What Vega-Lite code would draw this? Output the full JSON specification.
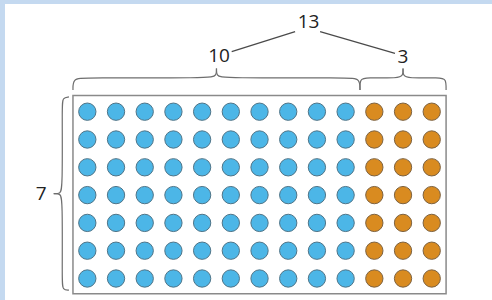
{
  "$schema": "https://vega.github.io/schema/vega-lite/v6.json",
  "width": 492,
  "height": 300,
  "autosize": {"type": "fit", "contains": "padding"},
  "padding": {"left": 5, "top": 4, "right": 0, "bottom": 0},
  "background": "#c4d9f0",
  "config": {"view": {"fill": "white", "stroke": null}},
  "datasets": {
    "grid": [
      {"col":0,"row":0,"group":"ten"},{"col":1,"row":0,"group":"ten"},{"col":2,"row":0,"group":"ten"},{"col":3,"row":0,"group":"ten"},{"col":4,"row":0,"group":"ten"},{"col":5,"row":0,"group":"ten"},{"col":6,"row":0,"group":"ten"},{"col":7,"row":0,"group":"ten"},{"col":8,"row":0,"group":"ten"},{"col":9,"row":0,"group":"ten"},{"col":10,"row":0,"group":"three"},{"col":11,"row":0,"group":"three"},{"col":12,"row":0,"group":"three"},
      {"col":0,"row":1,"group":"ten"},{"col":1,"row":1,"group":"ten"},{"col":2,"row":1,"group":"ten"},{"col":3,"row":1,"group":"ten"},{"col":4,"row":1,"group":"ten"},{"col":5,"row":1,"group":"ten"},{"col":6,"row":1,"group":"ten"},{"col":7,"row":1,"group":"ten"},{"col":8,"row":1,"group":"ten"},{"col":9,"row":1,"group":"ten"},{"col":10,"row":1,"group":"three"},{"col":11,"row":1,"group":"three"},{"col":12,"row":1,"group":"three"},
      {"col":0,"row":2,"group":"ten"},{"col":1,"row":2,"group":"ten"},{"col":2,"row":2,"group":"ten"},{"col":3,"row":2,"group":"ten"},{"col":4,"row":2,"group":"ten"},{"col":5,"row":2,"group":"ten"},{"col":6,"row":2,"group":"ten"},{"col":7,"row":2,"group":"ten"},{"col":8,"row":2,"group":"ten"},{"col":9,"row":2,"group":"ten"},{"col":10,"row":2,"group":"three"},{"col":11,"row":2,"group":"three"},{"col":12,"row":2,"group":"three"},
      {"col":0,"row":3,"group":"ten"},{"col":1,"row":3,"group":"ten"},{"col":2,"row":3,"group":"ten"},{"col":3,"row":3,"group":"ten"},{"col":4,"row":3,"group":"ten"},{"col":5,"row":3,"group":"ten"},{"col":6,"row":3,"group":"ten"},{"col":7,"row":3,"group":"ten"},{"col":8,"row":3,"group":"ten"},{"col":9,"row":3,"group":"ten"},{"col":10,"row":3,"group":"three"},{"col":11,"row":3,"group":"three"},{"col":12,"row":3,"group":"three"},
      {"col":0,"row":4,"group":"ten"},{"col":1,"row":4,"group":"ten"},{"col":2,"row":4,"group":"ten"},{"col":3,"row":4,"group":"ten"},{"col":4,"row":4,"group":"ten"},{"col":5,"row":4,"group":"ten"},{"col":6,"row":4,"group":"ten"},{"col":7,"row":4,"group":"ten"},{"col":8,"row":4,"group":"ten"},{"col":9,"row":4,"group":"ten"},{"col":10,"row":4,"group":"three"},{"col":11,"row":4,"group":"three"},{"col":12,"row":4,"group":"three"},
      {"col":0,"row":5,"group":"ten"},{"col":1,"row":5,"group":"ten"},{"col":2,"row":5,"group":"ten"},{"col":3,"row":5,"group":"ten"},{"col":4,"row":5,"group":"ten"},{"col":5,"row":5,"group":"ten"},{"col":6,"row":5,"group":"ten"},{"col":7,"row":5,"group":"ten"},{"col":8,"row":5,"group":"ten"},{"col":9,"row":5,"group":"ten"},{"col":10,"row":5,"group":"three"},{"col":11,"row":5,"group":"three"},{"col":12,"row":5,"group":"three"},
      {"col":0,"row":6,"group":"ten"},{"col":1,"row":6,"group":"ten"},{"col":2,"row":6,"group":"ten"},{"col":3,"row":6,"group":"ten"},{"col":4,"row":6,"group":"ten"},{"col":5,"row":6,"group":"ten"},{"col":6,"row":6,"group":"ten"},{"col":7,"row":6,"group":"ten"},{"col":8,"row":6,"group":"ten"},{"col":9,"row":6,"group":"ten"},{"col":10,"row":6,"group":"three"},{"col":11,"row":6,"group":"three"},{"col":12,"row":6,"group":"three"}
    ],
    "braces": [
      {"id":"a1","k":0,"x":-0.5,"y":-0.78},{"id":"a1","k":1,"x":-0.5,"y":-1.18},{"id":"a1","k":2,"x":-0.15,"y":-1.23},{"id":"a1","k":3,"x":4.3,"y":-1.2},{"id":"a1","k":4,"x":4.5,"y":-1.3},{"id":"a1","k":5,"x":4.5,"y":-1.55},
      {"id":"a2","k":0,"x":4.5,"y":-1.55},{"id":"a2","k":1,"x":4.5,"y":-1.3},{"id":"a2","k":2,"x":4.7,"y":-1.2},{"id":"a2","k":3,"x":9.15,"y":-1.23},{"id":"a2","k":4,"x":9.5,"y":-1.18},{"id":"a2","k":5,"x":9.5,"y":-0.78},
      {"id":"b1","k":0,"x":9.5,"y":-0.78},{"id":"b1","k":1,"x":9.5,"y":-1.18},{"id":"b1","k":2,"x":9.7,"y":-1.23},{"id":"b1","k":3,"x":10.85,"y":-1.2},{"id":"b1","k":4,"x":11.0,"y":-1.3},{"id":"b1","k":5,"x":11.0,"y":-1.55},
      {"id":"b2","k":0,"x":11.0,"y":-1.55},{"id":"b2","k":1,"x":11.0,"y":-1.3},{"id":"b2","k":2,"x":11.15,"y":-1.2},{"id":"b2","k":3,"x":12.3,"y":-1.23},{"id":"b2","k":4,"x":12.5,"y":-1.18},{"id":"b2","k":5,"x":12.5,"y":-0.78},
      {"id":"c1","k":0,"x":-0.64,"y":-0.53},{"id":"c1","k":1,"x":-0.86,"y":-0.5},{"id":"c1","k":2,"x":-0.88,"y":-0.25},{"id":"c1","k":3,"x":-0.86,"y":2.8},{"id":"c1","k":4,"x":-0.95,"y":2.95},{"id":"c1","k":5,"x":-1.17,"y":2.95},
      {"id":"c2","k":0,"x":-1.17,"y":2.95},{"id":"c2","k":1,"x":-0.95,"y":2.95},{"id":"c2","k":2,"x":-0.86,"y":3.1},{"id":"c2","k":3,"x":-0.88,"y":6.15},{"id":"c2","k":4,"x":-0.86,"y":6.4},{"id":"c2","k":5,"x":-0.64,"y":6.42}
    ],
    "connectors": [
      {"id":"l1","k":0,"x":5.03,"y":-2.16},{"id":"l1","k":1,"x":7.24,"y":-2.88},
      {"id":"l2","k":0,"x":8.11,"y":-2.88},{"id":"l2","k":1,"x":10.72,"y":-2.10}
    ],
    "labels": [
      {"label":"10","x":4.59,"y":-1.99},
      {"label":"3","x":11.0,"y":-1.96},
      {"label":"13","x":7.71,"y":-3.24},
      {"label":"7","x":-1.61,"y":2.95}
    ],
    "frame": [
      {"x":-0.5,"x2":12.5,"y":-0.58,"y2":6.55}
    ]
  },
  "encoding": {
    "x": {"field": "x", "type": "quantitative", "scale": {"domain": [-2.868, 14.1], "nice": false, "zero": false}, "axis": null},
    "y": {"field": "y", "type": "quantitative", "scale": {"domain": [-3.874, 6.773], "nice": false, "zero": false, "reverse": true}, "axis": null}
  },
  "layer": [
    {
      "data": {"name": "frame"},
      "mark": {"type": "rect", "fill": null, "stroke": "#8a8a8a", "strokeWidth": 1.5},
      "encoding": {"x2": {"field": "x2"}, "y2": {"field": "y2"}}
    },
    {
      "data": {"name": "grid"},
      "mark": {"type": "point", "filled": true, "shape": "circle", "size": 300, "strokeWidth": 1, "opacity": 1},
      "encoding": {
        "x": {"field": "col", "type": "quantitative"},
        "y": {"field": "row", "type": "quantitative"},
        "fill": {"field": "group", "type": "nominal", "scale": {"domain": ["ten", "three"], "range": ["#4cb6e7", "#d98b20"]}, "legend": null},
        "stroke": {"field": "group", "type": "nominal", "scale": {"domain": ["ten", "three"], "range": ["#4f7487", "#7d6240"]}, "legend": null}
      }
    },
    {
      "data": {"name": "braces"},
      "mark": {"type": "line", "interpolate": "basis", "color": "#6e6e6e", "strokeWidth": 1.2},
      "encoding": {"detail": {"field": "id"}, "order": {"field": "k", "type": "quantitative"}}
    },
    {
      "data": {"name": "connectors"},
      "mark": {"type": "line", "color": "#4a4a4a", "strokeWidth": 1.2},
      "encoding": {"detail": {"field": "id"}, "order": {"field": "k", "type": "quantitative"}}
    },
    {
      "data": {"name": "labels"},
      "mark": {"type": "text", "font": "Open Sans", "fontSize": 19, "color": "#222222", "baseline": "middle", "align": "center"},
      "encoding": {"text": {"field": "label"}}
    }
  ]
}
